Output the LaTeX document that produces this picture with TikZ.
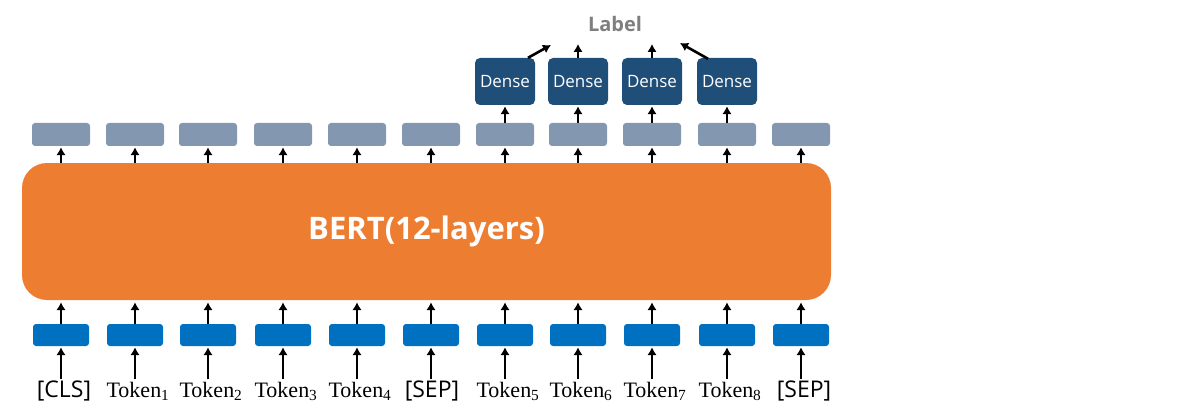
\documentclass[tikz,border=0pt]{standalone}
\usepackage{fontspec}
\setmainfont{Open Sans}
\newfontfamily\tokfont{Liberation Serif}
\usetikzlibrary{arrows.meta}
\definecolor{bertorange}{HTML}{ED7D31}
\definecolor{embblue}{HTML}{0070C0}
\definecolor{outgray}{HTML}{8497B0}
\definecolor{densedark}{HTML}{1F4E79}
\definecolor{labelgray}{HTML}{7F7F7F}
\begin{document}
\begin{tikzpicture}[x=1pt,y=-1pt,
  emb/.style={fill=embblue,rounded corners=3pt,minimum width=56pt,minimum height=22pt,inner sep=0pt},
  outbox/.style={fill=outgray,rounded corners=3pt,minimum width=58pt,minimum height=23pt,inner sep=0pt},
  densebox/.style={fill=densedark,rounded corners=5pt,minimum width=60pt,minimum height=47pt,inner sep=0pt,text=white,font=\fontsize{17}{19}\selectfont},
  bertbox/.style={fill=bertorange,rounded corners=25pt,minimum width=809pt,minimum height=137pt,inner sep=0pt,text=white,font=\fontsize{31}{34}\selectfont\bfseries},
  tok/.style={inner xsep=0pt,inner ysep=3pt,text height=15pt,text depth=6pt,font=\tokfont\fontsize{22}{24}\selectfont},
  sep/.style={inner xsep=0pt,inner ysep=3pt,text height=15pt,text depth=6pt,font=\fontsize{23}{25}\selectfont},
  arr/.style={line width=2.6pt,-{Latex[length=8pt,width=9.5pt]}}
]
\useasboundingbox (0,0) rectangle (1183,417);

\node[bertbox] (bert) at (426.5,231.5) {BERT(12-layers)};

\foreach \i/\x in {1/61,2/135,3/208,4/283,5/357,6/431,7/505,8/578,9/652,10/727,11/801}{
  \node[emb] (e\i) at (\x,335) {};
  \node[outbox] (o\i) at (\x,134.5) {};
  \draw[arr,shorten >=2pt] (e\i.north) -- (e\i.north |- bert.south);
  \draw[arr,shorten >=1pt] (o\i.south |- bert.north) -- (o\i.south);
}

\node[sep] (t1) at (64,393) {[CLS]};
\node[tok] (t2) at (138,393) {Token\textsubscript{1}};
\node[tok] (t3) at (211,393) {Token\textsubscript{2}};
\node[tok] (t4) at (286,393) {Token\textsubscript{3}};
\node[tok] (t5) at (360,393) {Token\textsubscript{4}};
\node[sep] (t6) at (432,393) {[SEP]};
\node[tok] (t7) at (508,393) {Token\textsubscript{5}};
\node[tok] (t8) at (581,393) {Token\textsubscript{6}};
\node[tok] (t9) at (655,393) {Token\textsubscript{7}};
\node[tok] (t10) at (730,393) {Token\textsubscript{8}};
\node[sep] (t11) at (804,393) {[SEP]};
\foreach \i in {1,...,11}{
  \draw[arr,shorten >=1pt] (e\i.south |- t\i.north) -- (e\i.south);
}

\node[densebox] (d1) at (505,81.5) {Dense};
\node[densebox] (d2) at (578,81.5) {Dense};
\node[densebox] (d3) at (652,81.5) {Dense};
\node[densebox] (d4) at (727,81.5) {Dense};
\draw[arr,shorten >=1pt] (o7.north) -- (d1.south);
\draw[arr,shorten >=1pt] (o8.north) -- (d2.south);
\draw[arr,shorten >=1pt] (o9.north) -- (d3.south);
\draw[arr,shorten >=1pt] (o10.north) -- (d4.south);

\node[text=labelgray,font=\fontsize{20}{22}\selectfont\bfseries] (label) at (615,24) {Label};
\coordinate (l1) at (551,45);
\coordinate (l2) at (578,44);
\coordinate (l3) at (652,44);
\coordinate (l4) at (680,43);
\draw[arr] ([xshift=23pt]d1.north) -- (l1);
\draw[arr] (d2.north) -- (l2);
\draw[arr] (d3.north) -- (l3);
\draw[arr] ([xshift=-19pt,yshift=-1pt]d4.north) -- (l4);
\end{tikzpicture}
\end{document}
